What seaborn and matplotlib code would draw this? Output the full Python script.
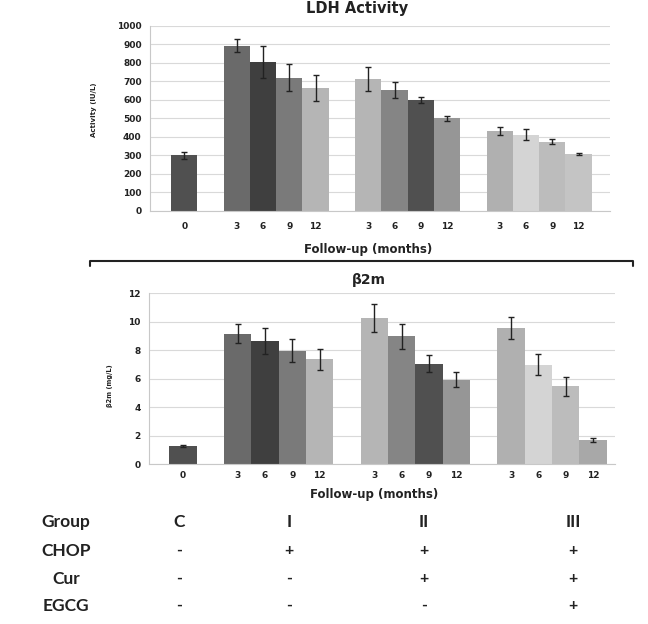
import pandas as pd
import seaborn as sns
import matplotlib.pyplot as plt
from matplotlib.lines import Line2D

# bars in drawing order: control, then groups I, II, III at 3/6/9/12 months
groups = ['C', 'I', 'I', 'I', 'I', 'II', 'II', 'II', 'II', 'III', 'III', 'III', 'III']
months = ['0', '3', '6', '9', '12', '3', '6', '9', '12', '3', '6', '9', '12']

ldh = [301, 893, 805, 720, 664, 715, 653, 599, 500, 431, 413, 375, 310]
ldh_err = [20, 35, 85, 72, 70, 64, 43, 18, 13, 21, 32, 15, 5]

b2m = [1.24, 9.15, 8.65, 7.95, 7.35, 10.25, 8.96, 7.04, 5.92, 9.54, 6.97, 5.45, 1.68]
b2m_err = [0.08, 0.67, 0.9, 0.8, 0.73, 1.0, 0.9, 0.6, 0.55, 0.8, 0.73, 0.68, 0.15]

ldh_colors = ['#505050', '#6a6a6a', '#3f3f3f', '#7a7a7a', '#b5b5b5', '#b5b5b5', '#858585',
              '#505050', '#969696', '#b0b0b0', '#d4d4d4', '#bcbcbc', '#c4c4c4']
b2m_colors = ['#505050', '#6a6a6a', '#3f3f3f', '#7a7a7a', '#b5b5b5', '#b5b5b5', '#858585',
              '#505050', '#969696', '#b0b0b0', '#d4d4d4', '#bcbcbc', '#a8a8a8']

table_cols = ['C', 'I', 'II', 'III']
table_rows = {
    'CHOP': ['-', '+', '+', '+'],
    'Cur': ['-', '-', '+', '+'],
    'EGCG': ['-', '-', '-', '+'],
}

# x positions: one slot per bar, an empty slot between groups
pos = []
p = -1
prev = None
for g in groups:
    p += 1 if g == prev else (2 if prev is not None else 1)
    pos.append(p)
    prev = g

sns.set_style('white')
plt.rcParams['font.family'] = ['DejaVu Sans']

fig = plt.figure(figsize=(6.48, 6.24), dpi=100)
ax1 = fig.add_axes([0.2315, 0.6619, 0.710, 0.2965])
ax2 = fig.add_axes([0.2299, 0.2564, 0.719, 0.274])


def draw(ax, vals, errs, colors, ymax, ystep, ylabel, xlim, xpad, ylsize):
    df = pd.DataFrame({'pos': pos, 'val': vals, 'err': errs,
                       'bar': [f'{g}-{m}' for g, m in zip(groups, months)]})
    sns.barplot(data=df, x='pos', y='val', hue='bar', palette=colors, dodge=False,
                native_scale=True, width=1, legend=False, linewidth=0, ax=ax)
    ax.errorbar(df['pos'], df['val'], yerr=df['err'], fmt='none', ecolor='#222222',
                elinewidth=1, capsize=2.2, capthick=1)
    ax.set_ylim(0, ymax)
    ax.set_yticks(range(0, int(ymax) + 1, ystep))
    ax.set_xlim(*xlim)
    ax.set_xticks(pos)
    ax.set_xticklabels(months)
    ax.yaxis.grid(True, color='#d9d9d9', lw=0.8)
    ax.set_axisbelow(True)
    for s in ['top', 'right']:
        ax.spines[s].set_visible(False)
    for s in ['left', 'bottom']:
        ax.spines[s].set_color('#c8c8c8')
        ax.spines[s].set_linewidth(0.8)
    ax.tick_params(length=0, labelsize=6.5, colors='#222222')
    ax.tick_params(axis='x', pad=xpad)
    ax.tick_params(axis='y', pad=6)
    for t in ax.get_xticklabels() + ax.get_yticklabels():
        t.set_fontweight('bold')
    ax.set_xlabel('Follow-up (months)', fontsize=8.5, fontweight='bold', color='#222222')
    ax.set_ylabel(ylabel, fontsize=ylsize, fontweight='bold', color='#222222')


draw(ax1, ldh, ldh_err, ldh_colors, 1000, 100, 'Activity (IU/L)', (-1.3, 16.2), 8, 5)
draw(ax2, b2m, b2m_err, b2m_colors, 12, 2, 'β2m (mg/L)', (-1.25, 15.8), 5, 4.8)

ax1.xaxis.set_label_coords(0.474, -0.173)
ax1.yaxis.set_label_coords(-0.115, 0.546)
ax2.xaxis.set_label_coords(0.483, -0.14)
ax2.yaxis.set_label_coords(-0.077, 0.46)

fig.text(357 / 648, 1 - 1 / 624, 'LDH Activity', ha='center', va='top',
         fontsize=10.5, fontweight='bold', color='#222222')
fig.text(369 / 648, 1 - 280 / 624, 'β2m', ha='center', va='center',
         fontsize=10, fontweight='bold', color='#222222')

# bracket between the two panels
y0, y1 = 1 - 261 / 624, 1 - 266 / 624
x0, x1 = 90 / 648, 633 / 648
fig.add_artist(Line2D([x0, x0, x1, x1], [y1, y0, y0, y1], color='#222222', lw=1.5))

# treatment table
col_x = [179, 289, 424, 573]
row_y = [551, 579, 606]
hkw = dict(ha='center', va='center', fontsize=12.5, fontweight='bold', color='#222222',
           family=['Lato', 'DejaVu Sans'])
mkw = dict(hkw, fontsize=11.5)
fig.text(66 / 648, 1 - 522 / 624, 'Group', **hkw)
for cx, c in zip(col_x, table_cols):
    fig.text(cx / 648, 1 - 522 / 624, c, **hkw)
for ry, (name, marks) in zip(row_y, table_rows.items()):
    fig.text(66 / 648, 1 - ry / 624, name, **hkw)
    for cx, m in zip(col_x, marks):
        fig.text(cx / 648, 1 - ry / 624, m, **mkw)

fig.savefig('out.png', dpi=100)
